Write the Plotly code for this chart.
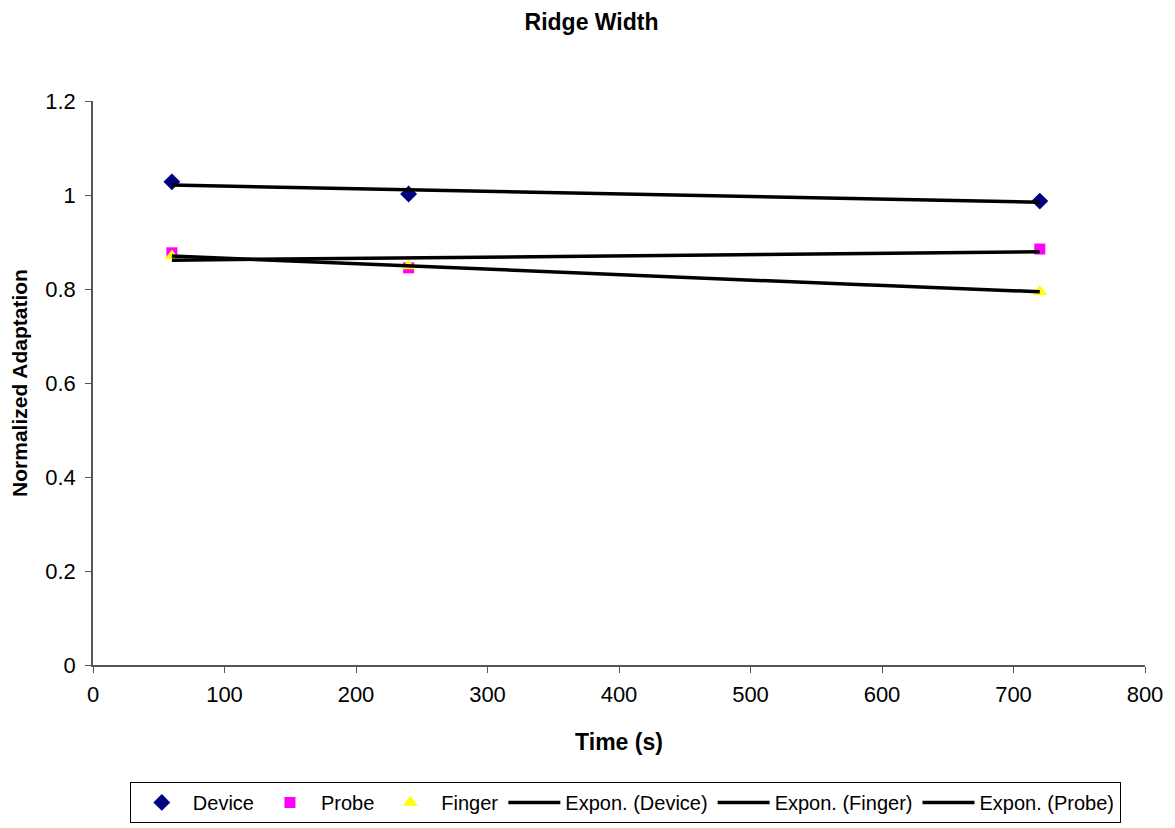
import numpy as np
import plotly.graph_objects as go

# measured points (time in s)
time_s = [60, 240, 720]
device = [1.028, 1.002, 0.987]
probe = [0.877, 0.845, 0.885]
finger = [0.870, 0.849, 0.794]

FONT = "Liberation Sans, Arial, sans-serif"
AXIS = "#555555"


def expon_fit(x, y):
    # Excel-style exponential trendline: y = a * exp(b x)
    b, ln_a = np.polyfit(np.array(x, float), np.log(y), 1)
    xs = np.linspace(min(x), max(x), 60)
    return xs, np.exp(ln_a) * np.exp(b * xs)


fig = go.Figure()
fig.add_trace(go.Scatter(x=time_s, y=device, mode="markers", name="Device",
                         marker=dict(symbol="diamond", size=13, color="#000080")))
fig.add_trace(go.Scatter(x=time_s, y=probe, mode="markers", name="Probe",
                         marker=dict(symbol="square", size=11, color="#FF00FF")))
fig.add_trace(go.Scatter(x=time_s, y=finger, mode="markers", name="Finger",
                         marker=dict(symbol="triangle-up", size=13, color="#FFFF00")))

for label, ys in [("Expon. (Device)", device), ("Expon. (Finger)", finger),
                  ("Expon. (Probe)", probe)]:
    xs, fit = expon_fit(time_s, ys)
    fig.add_trace(go.Scatter(x=xs, y=fit, mode="lines", name=label,
                             line=dict(color="black", width=3.5)))

# page body has an 8px margin, so the figure is a bit smaller than the window
fig.update_layout(
    width=1167, height=820,
    paper_bgcolor="white", plot_bgcolor="white",
    font=dict(family=FONT, size=22, color="black"),
    title=dict(text="<b>Ridge Width</b>", x=0.5, xanchor="center", y=0.983,
               yanchor="middle", font=dict(size=23)),
    margin=dict(l=85, r=30, t=93, b=163, autoexpand=False),
    legend=dict(orientation="h", x=0.506, xanchor="center", y=-0.28, yanchor="bottom",
                bordercolor="black", borderwidth=1, font=dict(size=20),
                itemwidth=52, tracegroupgap=0),
)
fig.update_xaxes(range=[0, 800], dtick=100, showline=True, linecolor=AXIS,
                 linewidth=1.5, ticks="outside", ticklen=6, tickcolor=AXIS,
                 ticklabelstandoff=3, showgrid=False, zeroline=False,
                 title=dict(text="<b>Time (s)</b>", font=dict(size=23), standoff=28))
fig.update_yaxes(range=[0, 1.2], dtick=0.2, showline=True, linecolor=AXIS,
                 linewidth=1.5, ticks="outside", ticklen=6, tickcolor=AXIS,
                 ticklabelstandoff=5, showgrid=False, zeroline=False,
                 title=dict(text="<b>Normalized Adaptation</b>", font=dict(size=21),
                            standoff=14))

fig.write_html("out.html")
